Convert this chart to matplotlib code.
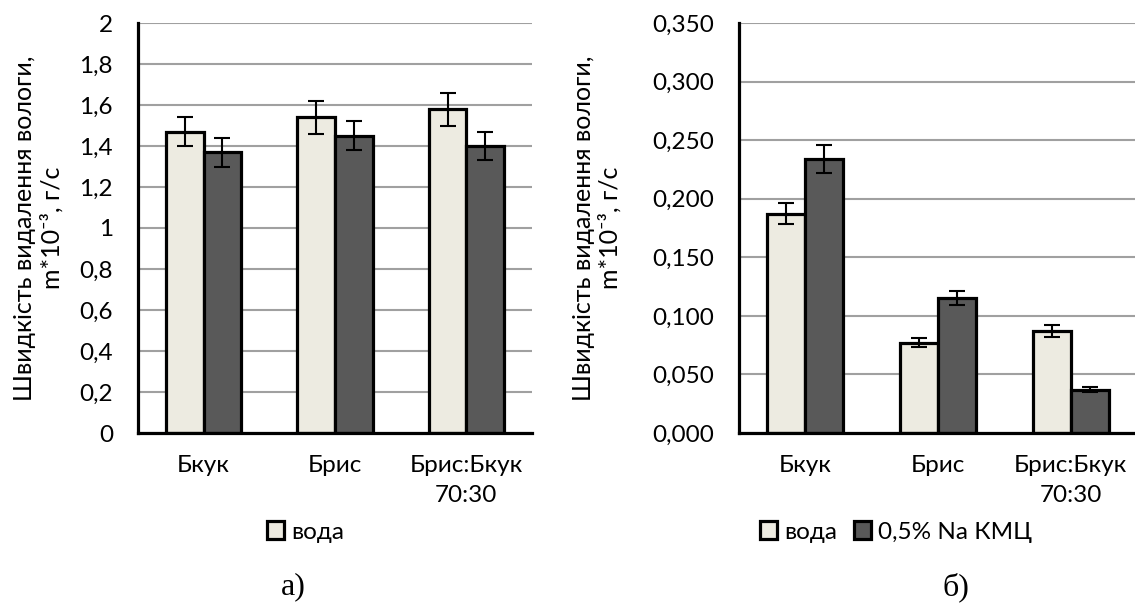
import numpy as np
import matplotlib
matplotlib.use("Agg")
import matplotlib.pyplot as plt

plt.rcParams['font.family'] = ['Lato', 'DejaVu Sans']

# categories and measured rates
categories = ["Бкук", "Брис", "Брис:Бкук\n70:30"]
series_names = ["вода", "0,5% Na КМЦ"]

# panel а)
water_a = [1.47, 1.54, 1.58]
water_a_err = [0.07, 0.08, 0.08]
cmc_a = [1.37, 1.45, 1.40]
cmc_a_err = [0.07, 0.07, 0.07]
yticks_a = [0, 0.2, 0.4, 0.6, 0.8, 1, 1.2, 1.4, 1.6, 1.8, 2]
ytick_labels_a = ["0", "0,2", "0,4", "0,6", "0,8", "1", "1,2", "1,4", "1,6", "1,8", "2"]

# panel б)
water_b = [0.187, 0.077, 0.087]
water_b_err = [0.009, 0.004, 0.005]
cmc_b = [0.234, 0.115, 0.037]
cmc_b_err = [0.012, 0.006, 0.002]
yticks_b = [0, 0.05, 0.10, 0.15, 0.20, 0.25, 0.30, 0.35]
ytick_labels_b = ["0,000", "0,050", "0,100", "0,150", "0,200", "0,250", "0,300", "0,350"]

LIGHT = "#EDEBE1"
DARK = "#595959"
FS = 17.5
ylabel = "Швидкість видалення вологи,\nm*10⁻³, г/с"


def draw_panel(ax, water, water_err, cmc, cmc_err, yticks, ylabels, labels):
    x = np.arange(len(categories))
    w = 1 / 3.5
    kw = dict(edgecolor="black", linewidth=2.3, zorder=3)
    ekw = dict(elinewidth=1.5, capthick=1.5, ecolor="black")
    ax.bar(x - w / 2, water, w, color=LIGHT, yerr=water_err, capsize=5.5,
           error_kw=ekw, label=labels[0], **kw)
    ax.bar(x + w / 2, cmc, w, color=DARK, yerr=cmc_err, capsize=5.5,
           error_kw=ekw, label=labels[1], **kw)
    ax.set_xlim(-0.5, len(categories) - 0.5)
    ax.set_ylim(yticks[0], yticks[-1])
    ax.set_yticks(yticks)
    ax.set_yticklabels(ylabels, fontsize=FS)
    ax.set_xticks(x)
    ax.set_xticklabels(categories, fontsize=FS, linespacing=1.5)
    ax.tick_params(axis="y", length=0, pad=18)
    ax.tick_params(axis="x", length=0, pad=16)
    ax.grid(axis="y", color="#A0A0A0", linewidth=1.5, zorder=0)
    ax.set_axisbelow(True)
    for s in ["top", "right"]:
        ax.spines[s].set_visible(False)
    for s in ["left", "bottom"]:
        ax.spines[s].set_linewidth(2.3)
        ax.spines[s].set_zorder(4)
    ax.set_ylabel(ylabel, fontsize=18, linespacing=1.2)


fig = plt.figure(figsize=(11.35, 6.05), dpi=100)
ax1 = fig.add_axes([138 / 1135, 1 - 433 / 605, 394 / 1135, 410 / 605])
ax2 = fig.add_axes([739 / 1135, 1 - 433 / 605, 398 / 1135, 410 / 605])

draw_panel(ax1, water_a, water_a_err, cmc_a, cmc_a_err, yticks_a, ytick_labels_a,
           [series_names[0], "_nolegend_"])
draw_panel(ax2, water_b, water_b_err, cmc_b, cmc_b_err, yticks_b, ytick_labels_b,
           series_names)
ax1.yaxis.set_label_coords(-0.19, 0.5)
ax2.yaxis.set_label_coords(-0.294, 0.5)

leg_kw = dict(loc="center", frameon=False, fontsize=FS, handlelength=0.7,
              handleheight=0.7, handletextpad=0.3, columnspacing=0.7,
              borderpad=0, borderaxespad=0)
ax1.legend(bbox_to_anchor=(306 / 1135, 1 - 532 / 605),
           bbox_transform=fig.transFigure, **leg_kw)
ax2.legend(bbox_to_anchor=(896 / 1135, 1 - 532 / 605), ncol=2,
           bbox_transform=fig.transFigure, **leg_kw)

fig.text(293 / 1135, 1 - 587 / 605, "а)", ha="center", va="center",
         fontsize=23, family="Liberation Serif")
fig.text(956 / 1135, 1 - 587 / 605, "б)", ha="center", va="center",
         fontsize=23, family="Liberation Serif")

fig.savefig("out.png", dpi=100)
